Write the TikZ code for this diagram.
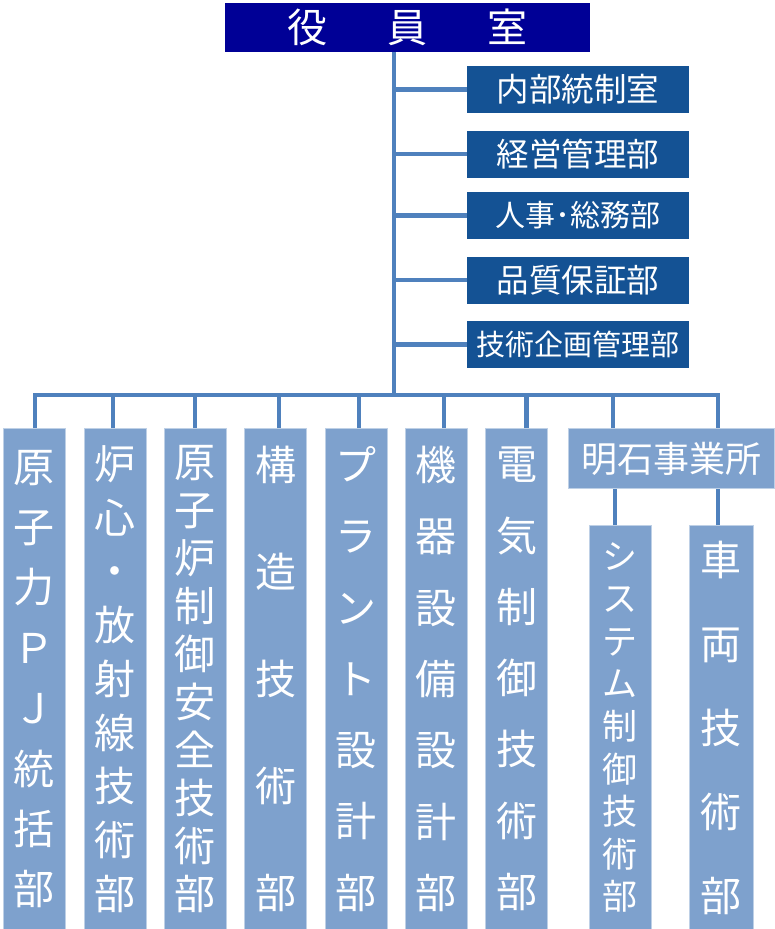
\documentclass[tikz,border=0pt]{standalone}
\usepackage{fontspec}
\newfontfamily\jp{Noto Sans CJK JP}
\definecolor{yakuinblue}{RGB}{0,0,150}
\definecolor{shitsublue}{RGB}{20,82,148}
\definecolor{senblue}{RGB}{79,129,189}
\definecolor{bublue}{RGB}{126,161,205}
\definecolor{buline}{RGB}{190,208,230}
\newcommand{\bufont}[2]{\jp\fontsize{#1}{#2}\selectfont}
\begin{document}
\begin{tikzpicture}[x=1pt,y=-1pt,
	yakuin/.style={fill=yakuinblue,text=white,minimum width=365pt,minimum height=49pt,inner sep=0pt,font=\bufont{40}{42}},
	shitsu/.style={fill=shitsublue,text=white,minimum width=222pt,minimum height=47pt,inner sep=0pt,font=\bufont{32.5}{34}},
	bu/.style={fill=bublue,draw=buline,line width=1pt,text=white,anchor=north,minimum width=62pt,minimum height=501pt,inner sep=0pt,align=center},
	sen/.style={senblue,line width=4.5pt}]
	\useasboundingbox (0,0) rectangle (775,929);
	% top
	\node[yakuin] (yakuin) at (407.5,27.5) {役\hspace{60pt}員\hspace{60pt}室};
	\coordinate (kan) at ([xshift=-13.5]yakuin.south);
	\coordinate (busend) at (718,395);
	% staff
	\node[shitsu] (naibu) at (578,89.5) {内部統制室};
	\node[shitsu] (keiei) at (578,154) {経営管理部};
	\node[shitsu,font=\bufont{30}{32}] (jinji) at (578,215.5) {人事･総務部};
	\node[shitsu] (hinshitsu) at (578,280) {品質保証部};
	\node[shitsu,font=\bufont{29}{31}] (kikaku) at (578,344.5) {技術企画管理部};
	% departments
	\node[bu,font=\bufont{41}{60.4}] (genshiryoku) at (34,428) {原\\子\\力\\Ｐ\\Ｊ\\統\\括\\部};
	\node[bu,font=\bufont{41}{53.75}] (roshin) at (115,428) {炉\\心\\・\\放\\射\\線\\技\\術\\部};
	\node[bu,font=\bufont{41}{48}] (seigyo) at (195,428) {原\\子\\炉\\制\\御\\安\\全\\技\\術\\部};
	\node[bu,font=\bufont{41}{107}] (kozo) at (275.5,428) {構\\造\\技\\術\\部};
	\node[bu,font=\bufont{41}{71.3}] (plant) at (356,428) {プ\\ラ\\ン\\ト\\設\\計\\部};
	\node[bu,font=\bufont{41}{71.3}] (kiki) at (436,428) {機\\器\\設\\備\\設\\計\\部};
	\node[bu,font=\bufont{41}{71.3}] (denki) at (516.5,428) {電\\気\\制\\御\\技\\術\\部};
	\node[bu,minimum width=206pt,minimum height=60pt,font=\bufont{36}{38}] (akashi) at (671,428) {明石事業所};
	\node[bu,minimum height=404pt,font=\bufont{35}{42.6}] (system) at (620,525) {シ\\ス\\テ\\ム\\制\\御\\技\\術\\部};
	\node[bu,minimum width=64pt,minimum height=404pt,font=\bufont{41}{84}] (sharyo) at (721,525) {車\\両\\技\\術\\部};
	% lines
	\draw[sen] (kan) -- (kan |- busend);
	\draw[sen] (naibu.west) -- (naibu.west -| kan);
	\draw[sen] (keiei.west) -- (keiei.west -| kan);
	\draw[sen] (jinji.west) -- (jinji.west -| kan);
	\draw[sen] (hinshitsu.west) -- (hinshitsu.west -| kan);
	\draw[sen] (kikaku.west) -- (kikaku.west -| kan);
	\draw[sen] ([xshift=1]genshiryoku.north) |- (busend) -- (busend |- akashi.north);
	\draw[sen] ([xshift=-2]roshin.north) -- ([xshift=-2]roshin.north |- busend);
	\draw[sen] (seigyo.north) -- (seigyo.north |- busend);
	\draw[sen] ([xshift=3.5]kozo.north) -- ([xshift=3.5]kozo.north |- busend);
	\draw[sen] ([xshift=3]plant.north) -- ([xshift=3]plant.north |- busend);
	\draw[sen] ([xshift=8]kiki.north) -- ([xshift=8]kiki.north |- busend);
	\draw[sen] ([xshift=10]denki.north) -- ([xshift=10]denki.north |- busend);
	\draw[sen] ([xshift=-58]akashi.north) -- ([xshift=-58]akashi.north |- busend);
	\draw[sen] ([xshift=-5]system.north) -- ([xshift=-5]system.north |- akashi.south);
	\draw[sen] ([xshift=-3]sharyo.north) -- ([xshift=-3]sharyo.north |- akashi.south);
\end{tikzpicture}
\end{document}
